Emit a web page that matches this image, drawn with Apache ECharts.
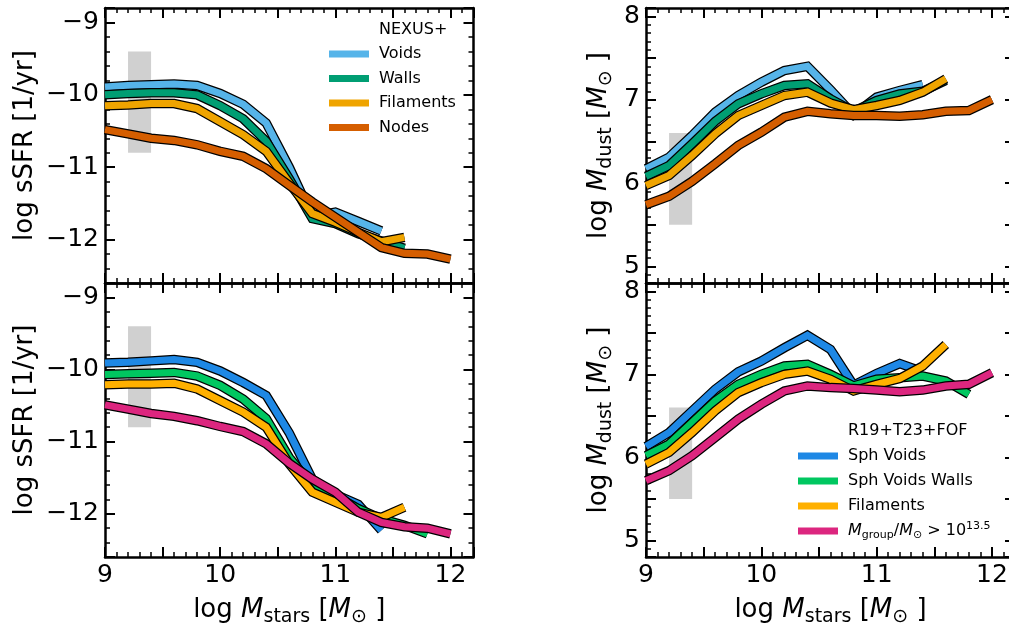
<!DOCTYPE html>
<html>
<head>
<meta charset="utf-8">
<script src="https://cdn.jsdelivr.net/npm/echarts@6/dist/echarts.min.js"></script>
<style>
html,body{margin:0;padding:0;background:#fff;}
#chart{width:1009px;height:627px;}
</style>
</head>
<body>
<div id="chart"></div>
<script>
// ---------------- data ----------------
const massBins = [9.0, 9.2, 9.4, 9.6, 9.8, 10.0, 10.2, 10.4, 10.6, 10.8, 11.0, 11.2, 11.4, 11.6, 11.8, 12.0];

// top-left: NEXUS+ log sSFR
const ssfrNexusVoids     = [-9.89, -9.87, -9.86, -9.85, -9.87, -9.98, -10.13, -10.39, -11.00, -11.68, -11.62, -11.75, -11.88];
const ssfrNexusWalls     = [-10.00, -9.98, -9.97, -9.97, -10.00, -10.15, -10.33, -10.64, -11.16, -11.71, -11.78, -11.92, -12.02, -12.12];
const ssfrNexusFilaments = [-10.15, -10.14, -10.12, -10.12, -10.19, -10.37, -10.55, -10.78, -11.22, -11.64, -11.76, -11.90, -12.03, -11.97];
const ssfrNexusNodes     = [-10.48, -10.54, -10.60, -10.63, -10.69, -10.78, -10.85, -11.02, -11.25, -11.48, -11.69, -11.90, -12.11, -12.19, -12.20, -12.27];

// bottom-left: R19+T23+FOF log sSFR
const ssfrSphVoids       = [-9.91, -9.90, -9.88, -9.86, -9.90, -10.02, -10.18, -10.36, -10.88, -11.52, -11.73, -11.87, -12.23];
const ssfrSphVoidsWalls  = [-10.07, -10.06, -10.05, -10.04, -10.09, -10.22, -10.41, -10.68, -11.22, -11.61, -11.75, -11.93, -12.07, -12.16, -12.28];
const ssfrFofFilaments   = [-10.21, -10.20, -10.20, -10.19, -10.27, -10.43, -10.59, -10.80, -11.31, -11.70, -11.84, -11.98, -12.05, -11.91];
const ssfrGroups         = [-10.49, -10.55, -10.61, -10.65, -10.71, -10.79, -10.86, -11.03, -11.30, -11.52, -11.70, -11.98, -12.12, -12.18, -12.20, -12.28];

// top-right: NEXUS+ log Mdust
const dustNexusVoids     = [6.17, 6.31, 6.57, 6.85, 7.05, 7.21, 7.35, 7.40, 7.12, 6.82, 7.03, 7.11, 7.18];
const dustNexusWalls     = [6.08, 6.21, 6.47, 6.74, 6.95, 7.07, 7.17, 7.19, 7.01, 6.86, 6.99, 7.07, 7.10, 7.23];
const dustNexusFilaments = [5.97, 6.09, 6.33, 6.59, 6.81, 6.93, 7.05, 7.09, 6.96, 6.88, 6.93, 6.99, 7.09, 7.25];
const dustNexusNodes     = [5.74, 5.84, 6.02, 6.23, 6.45, 6.61, 6.79, 6.86, 6.83, 6.81, 6.81, 6.80, 6.82, 6.86, 6.87, 7.00];

// bottom-right: R19+T23+FOF log Mdust
const dustSphVoids       = [6.13, 6.30, 6.56, 6.82, 7.03, 7.16, 7.32, 7.47, 7.30, 6.87, 7.01, 7.13, 7.03];
const dustSphVoidsWalls  = [6.02, 6.16, 6.42, 6.68, 6.88, 7.00, 7.10, 7.12, 7.00, 6.86, 6.94, 6.96, 6.98, 6.92, 6.76];
const dustFofFilaments   = [5.92, 6.06, 6.30, 6.56, 6.78, 6.90, 7.00, 7.04, 6.94, 6.80, 6.88, 6.95, 7.10, 7.36];
const dustGroups         = [5.72, 5.84, 6.02, 6.24, 6.46, 6.64, 6.80, 6.86, 6.84, 6.83, 6.81, 6.79, 6.81, 6.86, 6.88, 7.02];

// grey observational bands
const bandX    = [9.2, 9.4];
const bandSSFR = [-10.8, -9.4];
const bandDust = [5.5, 6.6];

// axis ranges
const xRange    = [9, 12.2];
const ssfrRange = [-12.6, -8.8];
const dustRange = [4.8, 8.1];

// legend names
const nexusNames = ['Voids', 'Walls', 'Filaments', 'Nodes'];
const fofNames   = ['Sph Voids', 'Sph Voids Walls', 'Filaments ', 'Mgroup'];
const nexusColors = ['#56B4E9', '#009E73', '#EFA400', '#D55E00'];
const fofColors   = ['#1E88E5', '#00C760', '#FFB000', '#DC267F'];

// ---------------- chart ----------------
const FONT = 'DejaVu Sans';
const chart = echarts.init(document.getElementById('chart'), null, {renderer: 'canvas'});

const grids = [
  {left: 105, top: 8,   width: 368.5, height: 275, outerBoundsMode: 'none', containLabel: false},
  {left: 105, top: 283, width: 368.5, height: 274, outerBoundsMode: 'none', containLabel: false},
  {left: 646, top: 8,   width: 369,   height: 275, outerBoundsMode: 'none', containLabel: false},
  {left: 646, top: 283, width: 369,   height: 274, outerBoundsMode: 'none', containLabel: false}
];

function fmtNum(v) {
  if (Math.abs(v - Math.round(v)) > 1e-6) return '';
  const r = Math.round(v);
  return r < 0 ? '\u2212' + Math.abs(r) : String(r);
}

const richName = {
  n: {fontFamily: FONT, fontSize: 26, color: '#000', lineHeight: 34, verticalAlign: 'middle'},
  i: {fontFamily: FONT, fontSize: 26, fontStyle: 'italic', color: '#000', lineHeight: 34, verticalAlign: 'middle'},
  s: {fontFamily: FONT, fontSize: 19, color: '#000', lineHeight: 20, verticalAlign: 'bottom'}
};

function baseAxis(extra) {
  return Object.assign({
    type: 'value',
    axisLine: {show: true, onZero: false, lineStyle: {color: '#000', width: 2.5}},
    axisTick: {show: true, inside: true, length: 10, lineStyle: {color: '#000', width: 2}},
    minorTick: {show: true, splitNumber: 5, length: 5, lineStyle: {color: '#000', width: 1.5}},
    splitLine: {show: false},
    minorSplitLine: {show: false},
    axisLabel: {show: false}
  }, extra);
}

const xAxes = [], yAxes = [];
for (let g = 0; g < 4; g++) {
  const isBottom = (g === 1 || g === 3);
  const isRight = g >= 2;
  xAxes.push(baseAxis({
    gridIndex: g, position: 'bottom', min: xRange[0], max: xRange[1],
    axisLabel: isBottom ? {show: true, margin: 6, color: '#000', fontFamily: FONT, fontSize: 25, formatter: fmtNum} : {show: false},
    name: isBottom ? '{n|log }{i|M}{s|stars}{n| [}{i|M}{s|\u2299}{n| ]}' : '',
    nameLocation: 'middle', nameGap: 36,
    nameTextStyle: {rich: richName}
  }));
  xAxes.push(baseAxis({gridIndex: g, position: 'top', min: xRange[0], max: xRange[1]}));
  const yr = isRight ? dustRange : ssfrRange;
  yAxes.push(baseAxis({
    gridIndex: g, position: 'left', min: yr[0], max: yr[1],
    axisLabel: {show: true, margin: 6, color: '#000', fontFamily: FONT, fontSize: 25, formatter: fmtNum},
    name: isRight ? '{n|log }{i|M}{s|dust}{n| [}{i|M}{s|\u2299}{n| ]}' : 'log sSFR [1/yr]',
    nameLocation: 'middle', nameRotate: 90, nameGap: isRight ? 30 : 67,
    nameTextStyle: isRight ? {rich: richName} : {fontFamily: FONT, fontSize: 26, color: '#000'}
  }));
  yAxes.push(baseAxis({gridIndex: g, position: 'right', min: yr[0], max: yr[1]}));
}

const series = [];
function addBand(g, yBand) {
  series.push({
    type: 'line', name: '_band' + g, xAxisIndex: g * 2, yAxisIndex: g * 2, data: [],
    silent: true, animation: false,
    markArea: {silent: true, itemStyle: {color: '#d0d0d0'},
      data: [[{coord: [bandX[0], yBand[0]]}, {coord: [bandX[1], yBand[1]]}]]}
  });
}
function addCurve(g, name, color, ys) {
  const data = ys.map((v, i) => [massBins[i], v]);
  series.push({
    type: 'line', name: '_outline_' + g + '_' + name, xAxisIndex: g * 2, yAxisIndex: g * 2,
    data: data, symbol: 'none', silent: true, animation: false, z: 3,
    lineStyle: {color: '#000', width: 9.5, join: 'miter', cap: 'butt'}
  });
  series.push({
    type: 'line', name: name, color: color, xAxisIndex: g * 2, yAxisIndex: g * 2,
    data: data, symbol: 'none', silent: true, animation: false, z: 3,
    lineStyle: {color: color, width: 7, join: 'miter', cap: 'butt'}
  });
}

addBand(0, bandSSFR);
[ssfrNexusVoids, ssfrNexusWalls, ssfrNexusFilaments, ssfrNexusNodes].forEach((d, k) => addCurve(0, nexusNames[k], nexusColors[k], d));
addBand(1, bandSSFR);
[ssfrSphVoids, ssfrSphVoidsWalls, ssfrFofFilaments, ssfrGroups].forEach((d, k) => addCurve(1, fofNames[k] + '_b', fofColors[k], d));
addBand(2, bandDust);
[dustNexusVoids, dustNexusWalls, dustNexusFilaments, dustNexusNodes].forEach((d, k) => addCurve(2, nexusNames[k] + '_r', nexusColors[k], d));
addBand(3, bandDust);
[dustSphVoids, dustSphVoidsWalls, dustFofFilaments, dustGroups].forEach((d, k) => addCurve(3, fofNames[k], fofColors[k], d));

const legendRich = {
  g: {width: 5, lineHeight: 20},
  n: {fontFamily: FONT, fontSize: 16, color: '#000', lineHeight: 20, verticalAlign: 'middle'},
  i: {fontFamily: FONT, fontSize: 16, fontStyle: 'italic', color: '#000', lineHeight: 20, verticalAlign: 'middle'},
  s: {fontFamily: FONT, fontSize: 11, color: '#000', lineHeight: 12, verticalAlign: 'bottom'},
  p: {fontFamily: FONT, fontSize: 11, color: '#000', lineHeight: 12, verticalAlign: 'top'}
};
function legendFmt(name) {
  if (name === 'Mgroup') return '{g|}{i|M}{s|group}{n|/}{i|M}{s|\u2299}{n| > 10}{p|13.5}';
  return '{g|}{n|' + name.trim() + '}';
}

const option = {
  animation: false,
  backgroundColor: '#fff',
  grid: grids,
  xAxis: xAxes,
  yAxis: yAxes,
  series: series,
  legend: [
    {data: nexusNames, orient: 'vertical', left: 329, top: 44, padding: 0, itemGap: 4.5,
     icon: 'rect', itemWidth: 40, itemHeight: 7, selectedMode: false,
     formatter: legendFmt, textStyle: {lineHeight: 20, rich: legendRich}},
    {data: fofNames, orient: 'vertical', left: 798, top: 446, padding: 0, itemGap: 5,
     icon: 'rect', itemWidth: 40, itemHeight: 7, selectedMode: false,
     formatter: legendFmt, textStyle: {lineHeight: 20, rich: legendRich}}
  ],
  graphic: [
    {type: 'text', left: 379, top: 22, style: {text: 'NEXUS+', font: '16px "DejaVu Sans"', fill: '#000'}},
    {type: 'text', left: 848, top: 423, style: {text: 'R19+T23+FOF', font: '16px "DejaVu Sans"', fill: '#000'}}
  ]
};
chart.setOption(option);
</script>
</body>
</html>
